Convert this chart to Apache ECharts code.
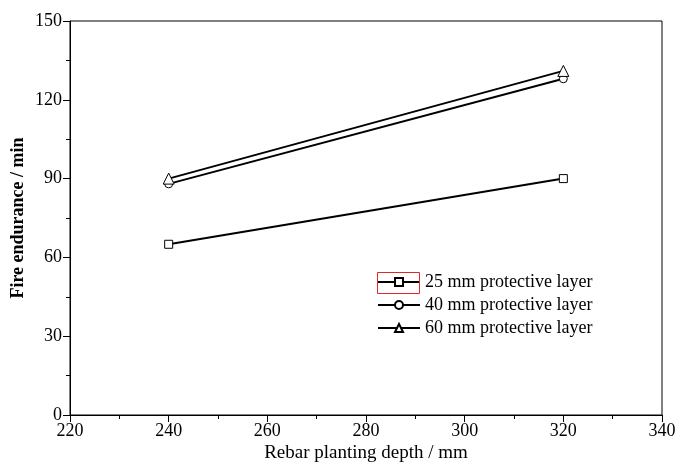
<!DOCTYPE html>
<html><head><meta charset="utf-8">
<script src="https://cdn.jsdelivr.net/npm/echarts@6/dist/echarts.min.js"></script>
<style>html,body{margin:0;padding:0;background:#fff}#c{width:675px;height:463px}</style>
</head><body><div id="c"></div>
<script>
const depths = [240, 320];
const layer25 = [65, 90];
const layer40 = [88, 128];
const layer60 = [90, 131];
const seriesNames = ['25 mm protective layer', '40 mm protective layer', '60 mm protective layer'];
const xTicks = [220, 240, 260, 280, 300, 320, 340];
const yTicks = [0, 30, 60, 90, 120, 150];

const font = 'Liberation Serif';
const chart = echarts.init(document.getElementById('c'));
function mk(name, vals, sym) {
  return {
    name: name, type: 'line', data: depths.map((d, i) => [d, vals[i]]),
    symbol: sym, symbolSize: sym === 'triangle' ? 11 : 8, showSymbol: true,
    lineStyle: {color: '#000', width: 2},
    itemStyle: {color: '#fff', borderColor: '#000', borderWidth: 1},
    z: 3
  };
}
chart.setOption({
  animation: false,
  grid: {left: 70, right: 13, top: 21, bottom: 48, show: true, borderColor: '#000', borderWidth: 1, outerBoundsMode: 'none', containLabel: false},
  xAxis: {
    type: 'value', min: 220, max: 340, interval: 20,
    name: 'Rebar planting depth / mm', nameLocation: 'middle', nameGap: 29, nameMoveOverlap: false,
    nameTextStyle: {fontFamily: font, fontSize: 19, color: '#000'},
    axisLine: {lineStyle: {color: '#000', width: 1}},
    axisTick: {inside: false, length: 7, lineStyle: {color: '#000'}},
    minorTick: {show: true, splitNumber: 2, length: 4, lineStyle: {color: '#000'}},
    axisLabel: {fontFamily: font, fontSize: 18, color: '#000', margin: 7},
    splitLine: {show: false}
  },
  yAxis: {
    type: 'value', min: 0, max: 150, interval: 30,
    name: 'Fire endurance / min', nameLocation: 'middle', nameGap: 43, nameMoveOverlap: false,
    nameTextStyle: {fontFamily: font, fontSize: 18, fontWeight: 'bold', color: '#000'},
    axisLine: {lineStyle: {color: '#000', width: 1}},
    axisTick: {inside: false, length: 7, lineStyle: {color: '#000'}},
    minorTick: {show: true, splitNumber: 2, length: 4, lineStyle: {color: '#000'}},
    axisLabel: {fontFamily: font, fontSize: 18, color: '#000', margin: 8},
    splitLine: {show: false}
  },
  legend: {
    orient: 'vertical', left: 372, top: 268, itemGap: 5, itemWidth: 42, itemHeight: 10,
    textStyle: {fontFamily: font, fontSize: 18, color: '#000'},
    data: seriesNames
  },
  graphic: [{type: 'rect', left: 375, top: 270, shape: {width: 42, height: 21},
    style: {fill: 'none', stroke: '#e0282a', lineWidth: 1}, z: 100}],
  series: [mk(seriesNames[0], layer25, 'rect'), mk(seriesNames[1], layer40, 'circle'), mk(seriesNames[2], layer60, 'triangle')]
});
</script></body></html>
